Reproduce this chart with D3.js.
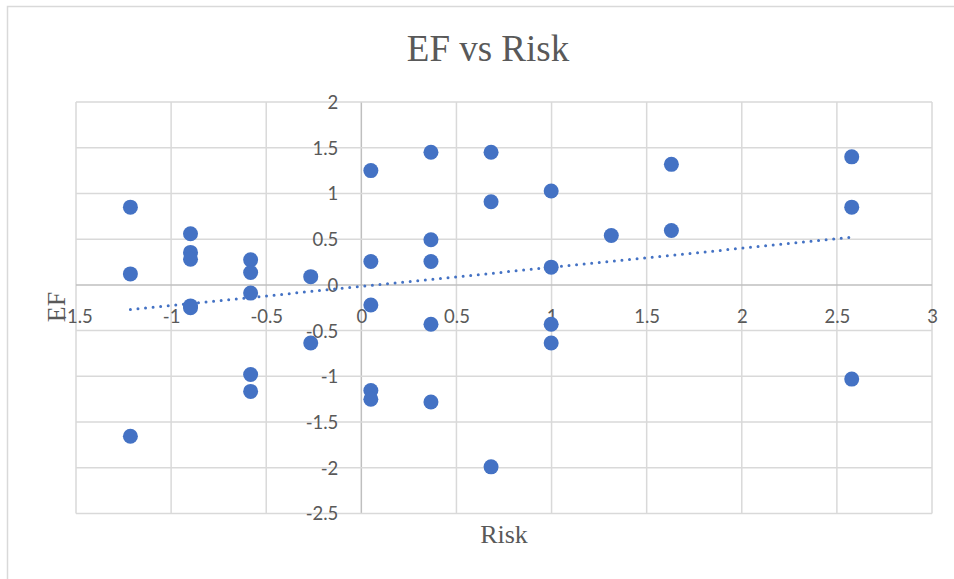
<!DOCTYPE html>
<html>
<head>
<meta charset="utf-8">
<script src="https://cdn.jsdelivr.net/npm/d3@7/dist/d3.min.js"></script>
<style>
html,body{margin:0;padding:0;background:#fff;}
svg{display:block;}
</style>
</head>
<body>
<svg id="chart" width="954" height="579"></svg>
<script>
// Data
const riskValues = [
  -1.214, -1.214, -1.214,
  -0.898, -0.898, -0.898, -0.898, -0.898,
  -0.582, -0.582, -0.582, -0.582, -0.582,
  -0.266, -0.266,
  0.050, 0.050, 0.050, 0.050, 0.050,
  0.366, 0.366, 0.366, 0.366, 0.366,
  0.682, 0.682, 0.682,
  0.998, 0.998, 0.998, 0.998,
  1.314,
  1.630, 1.630,
  2.578, 2.578, 2.578
];
const efValues = [
  0.85, 0.12, -1.655,
  0.56, 0.355, 0.28, -0.23, -0.25,
  0.274, 0.135, -0.09, -0.98, -1.165,
  0.09, -0.635,
  1.25, 0.255, -0.22, -1.155, -1.25,
  1.45, 0.493, 0.255, -0.43, -1.28,
  1.45, 0.909, -1.99,
  1.026, 0.194, -0.43, -0.635,
  0.54,
  1.318, 0.595,
  1.40, 0.85, -1.03
];
const xTicks = [-1.5, -1, -0.5, 0, 0.5, 1, 1.5, 2, 2.5, 3];
const yTicks = [2, 1.5, 1, 0.5, 0, -0.5, -1, -1.5, -2, -2.5];
const titleText = "EF vs Risk";
const xTitle = "Risk";
const yTitle = "EF";

const svg = d3.select("#chart");
const W = 954, H = 579;
const plot = {left: 76, right: 932, top: 102, bottom: 513.5};

const x = d3.scaleLinear().domain([-1.5, 3]).range([plot.left, plot.right]);
const y = d3.scaleLinear().domain([-2.5, 2]).range([plot.bottom, plot.top]);

// chart area border
svg.append("path")
  .attr("d", `M${W+2},6.5 H7.5 V${H+2}`)
  .attr("fill", "none").attr("stroke", "#d9d9d9").attr("stroke-width", 1.5);

// gridlines
const grid = svg.append("g");
grid.selectAll("line.v").data(xTicks).enter().append("line")
  .attr("x1", d => x(d)).attr("x2", d => x(d))
  .attr("y1", plot.top).attr("y2", plot.bottom)
  .attr("stroke", d => d === 0 ? "#bfbfbf" : "#d9d9d9").attr("stroke-width", 1.5);
grid.selectAll("line.h").data(yTicks).enter().append("line")
  .attr("y1", d => y(d)).attr("y2", d => y(d))
  .attr("x1", plot.left).attr("x2", plot.right)
  .attr("stroke", d => d === 0 ? "#bfbfbf" : "#d9d9d9").attr("stroke-width", 1.5);

// tick labels via d3 axes (no lines)
const fmt = d => String(d);
const xAxis = d3.axisBottom(x).tickValues(xTicks).tickFormat(fmt).tickSize(0).tickPadding(0);
const xg = svg.append("g").attr("transform", `translate(0,${y(0) + 38})`).call(xAxis);
xg.select(".domain").remove();
xg.selectAll("text").attr("dy", null).attr("y", 0);

const yAxis = d3.axisLeft(y).tickValues(yTicks).tickFormat(fmt).tickSize(0).tickPadding(0);
const yg = svg.append("g").attr("transform", `translate(${x(0) - 23},0)`).call(yAxis);
yg.select(".domain").remove();

svg.selectAll(".tick text")
  .attr("fill", "#595959")
  .style("font-family", "Lato, 'Open Sans', sans-serif")
  .style("font-size", "18.5px");
yg.selectAll("text").attr("dy", "0.35em");

// trendline (linear least squares of the data, drawn over the data's x range)
const n = riskValues.length;
const mx = d3.mean(riskValues), my = d3.mean(efValues);
let sxy = 0, sxx = 0;
for (let i = 0; i < n; i++) { sxy += (riskValues[i]-mx)*(efValues[i]-my); sxx += (riskValues[i]-mx)**2; }
const slope = sxy / sxx, intercept = my - slope * mx;
const ext = d3.extent(riskValues);
svg.append("line")
  .attr("x1", x(ext[0])).attr("y1", y(intercept + slope*ext[0]))
  .attr("x2", x(ext[1])).attr("y2", y(intercept + slope*ext[1]))
  .attr("stroke", "#4472C4").attr("stroke-width", 3)
  .attr("stroke-linecap", "round").attr("stroke-dasharray", "0 7.6");

// points
svg.append("g").selectAll("circle").data(riskValues).enter().append("circle")
  .attr("cx", d => x(d)).attr("cy", (d, i) => y(efValues[i]))
  .attr("r", 7.5).attr("fill", "#4472C4");

// titles
svg.append("text").text(titleText)
  .attr("x", 488).attr("y", 61).attr("text-anchor", "middle")
  .attr("fill", "#595959")
  .style("font-family", "'Liberation Serif', 'Times New Roman', serif").style("font-size", "37px");
svg.append("text").text(xTitle)
  .attr("x", (plot.left + plot.right)/2).attr("y", 543).attr("text-anchor", "middle")
  .attr("fill", "#595959")
  .style("font-family", "'Liberation Serif', 'Times New Roman', serif").style("font-size", "26px");
svg.append("text").text(yTitle)
  .attr("transform", `translate(65,307) rotate(-90)`).attr("text-anchor", "middle")
  .attr("fill", "#595959")
  .style("font-family", "'Liberation Serif', 'Times New Roman', serif").style("font-size", "26px");
</script>
</body>
</html>
